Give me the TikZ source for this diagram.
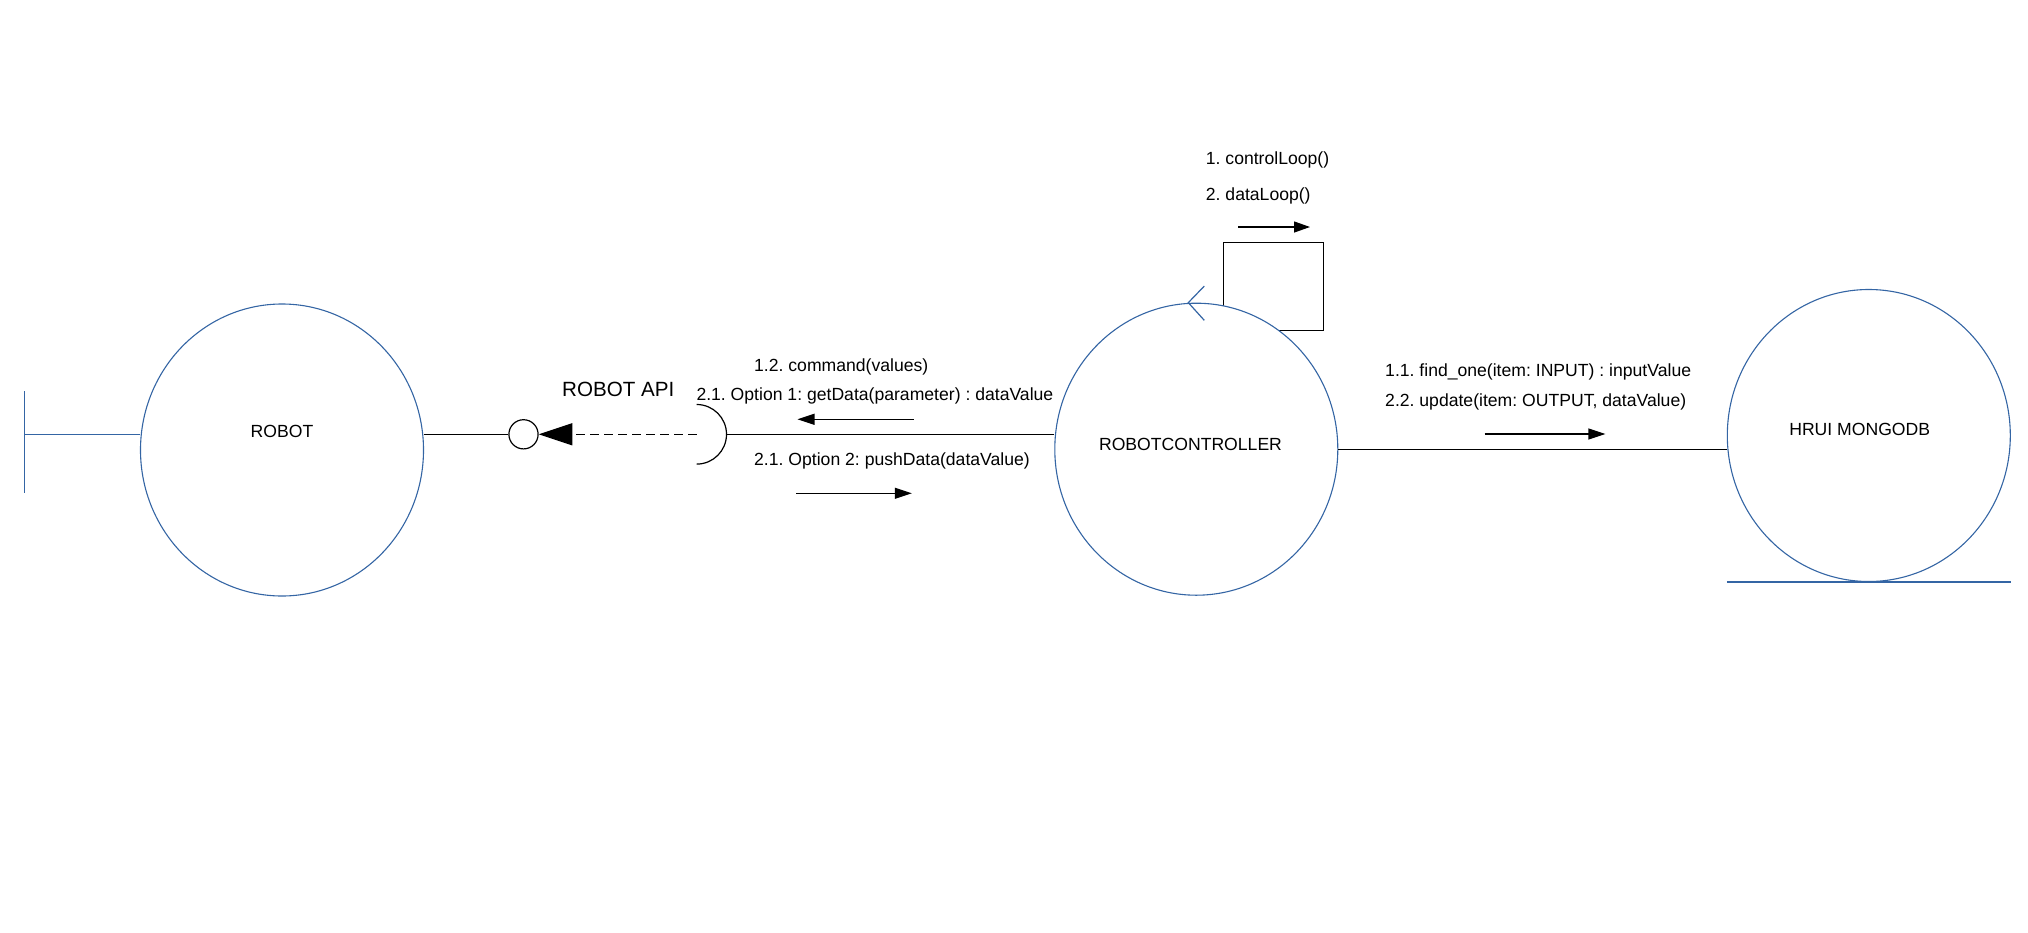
\documentclass[tikz,border=0pt]{standalone}
\usepackage{fontspec}
\setmainfont{Liberation Sans}
\usetikzlibrary{shapes.geometric,arrows.meta}
\definecolor{umlblue}{RGB}{52,101,164}
\frenchspacing
\begin{document}
\begin{tikzpicture}[x=1pt,y=-1pt,
  every node/.style={font=\fontsize{17.6}{21}\selectfont},
  entity/.style={ellipse, draw=umlblue, fill=white, line width=1.1pt,
    minimum width=283pt, minimum height=292pt, inner sep=0pt},
  wire/.style={draw=black, line width=1.2pt},
  blueline/.style={draw=umlblue, line width=1.2pt},
  msg/.style={wire, -{Triangle[length=17pt,width=11pt]}},
  lbl/.style={anchor=base west, inner sep=0pt},
  objlbl/.style={anchor=base, inner sep=0pt},
]
\useasboundingbox (0,0) rectangle (2028,932);

% self-call box, partly hidden behind the controller
\node[draw, line width=1.2pt, minimum width=100pt, minimum height=88pt, inner sep=0pt]
  (loopbox) at (1273.3,286.3) {};

% the three robustness objects
\node[entity] (robot) at (282,450) {};
\node[entity] (rc) at (1196.3,449.2) {};
\node[entity] (db) at (1868.8,435.5) {};
\node[objlbl] (robotlbl) at (282,437.3) {ROBOT};
\node[objlbl] (rclbl) at (1190.5,450) {ROBOTCONTROLLER};
\node[objlbl] (dblbl) at (1859.7,435) {HRUI MONGODB};

% boundary marker
\coordinate (btop) at (24.3,391);
\coordinate (bbot) at (24.3,493);
\coordinate (bmid) at (24.3,434.3);
\draw[blueline] (btop) -- (bbot);
\draw[blueline] (bmid) -- (robot.west |- bmid);

% control marker on top of the controller
\draw[blueline] ([shift={(8,-16.6)}]rc.north) -- ([xshift=-8pt]rc.north)
  -- ([shift={(8,17.7)}]rc.north);

% entity base line
\draw[blueline] (db.south -| db.west) -- (db.south -| db.east);

% provided / required interface
\node[circle, draw, line width=1.2pt, minimum size=29.2pt, inner sep=0pt]
  (ball) at (523.5,434.3) {};
\coordinate (sock) at (696.7,434.3);
\draw[wire] (robot.east |- ball) -- (ball.west);
\draw[wire] (sock) ++(0,-29.8) arc[start angle=-90, end angle=90, radius=29.8];
\draw[wire, dash pattern=on 9pt off 5pt, -{Triangle[length=33.6pt,width=22pt]}]
  (sock) -- (ball.east);
\draw[wire] ([xshift=29.8pt]sock) -- (rc.west |- sock);
\node[lbl, font=\fontsize{20.6}{24}\selectfont] (apilbl) at (562,396.5) {ROBOT API};

% messages between controller and robot API
\node[lbl] (m12) at (754,371.7) {1.2. command(values)};
\node[lbl] (m21a) at (696.3,400) {2.1. Option 1: getData(parameter) : dataValue};
\node[lbl] (m21b) at (754,465.7) {2.1. Option 2: pushData(dataValue)};
\coordinate (la0) at (913.8,419.3);
\coordinate (la1) at (797.5,419.3);
\coordinate (ra0) at (796.3,493.3);
\coordinate (ra1) at (911.8,493.3);
\draw[msg] (la0) -- (la1);
\draw[msg] (ra0) -- (ra1);

% self messages
\node[lbl] (m1) at (1205.7,164.3) {1. controlLoop()};
\node[lbl] (m2) at (1205.7,200) {2. dataLoop()};
\coordinate (sa0) at (1238.3,227);
\coordinate (sa1) at (1310,227);
\draw[wire, -{Triangle[length=16pt,width=11pt]}] (sa0) -- (sa1);

% controller to database
\draw[wire] (rc.east) -- (rc.east -| db.west);
\node[lbl] (m11) at (1385,376.7) {1.1. find\_one(item: INPUT) : inputValue};
\node[lbl] (m22) at (1385,406) {2.2. update(item: OUTPUT, dataValue)};
\coordinate (da0) at (1484.6,434);
\coordinate (da1) at (1605.4,434);
\draw[msg] (da0) -- (da1);
\end{tikzpicture}
\end{document}
